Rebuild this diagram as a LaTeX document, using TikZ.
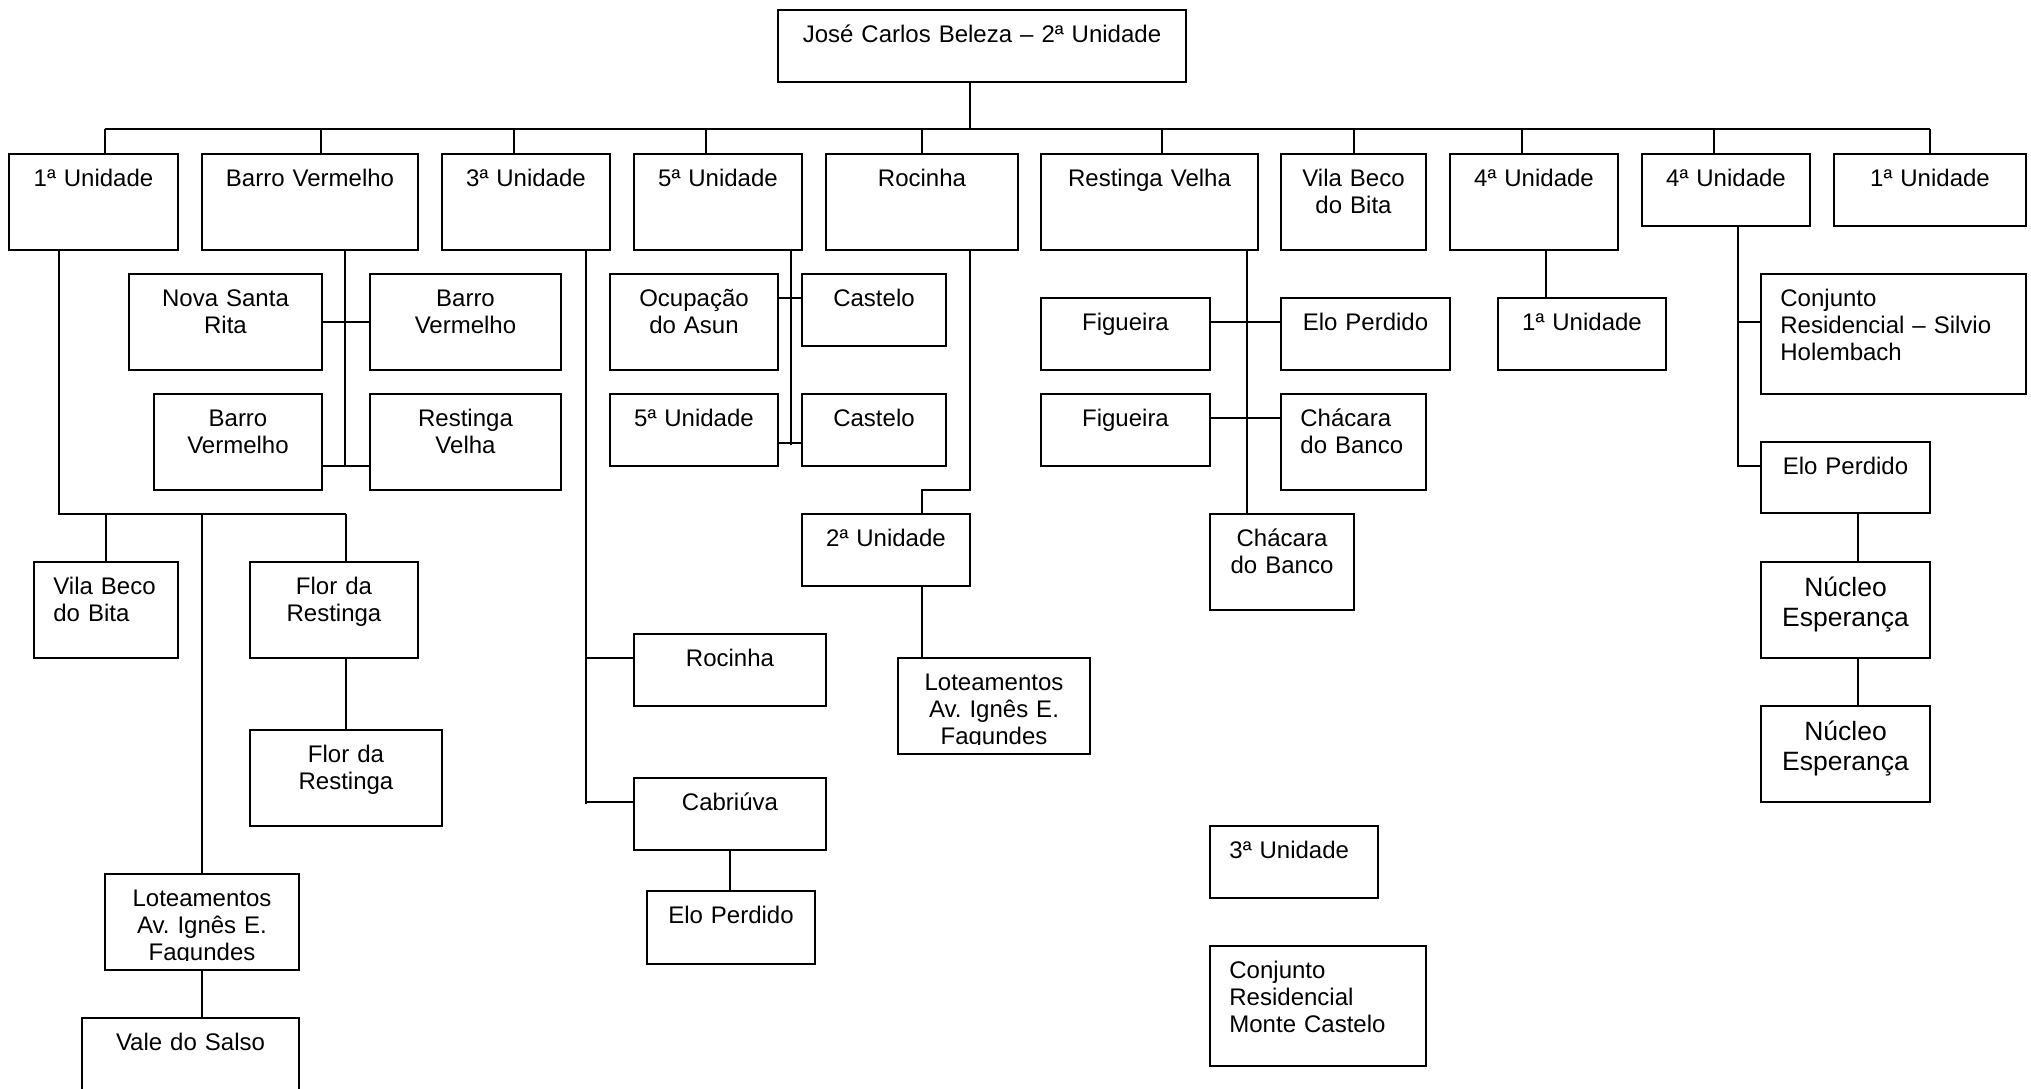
\documentclass[tikz,border=0pt]{standalone}
\usepackage{fontspec}
\setmainfont{Liberation Sans}
\usetikzlibrary{fit}

\begin{document}
\begin{tikzpicture}[x=0.5pt, y=-0.5pt,
    font=\fontsize{12pt}{13.5pt}\selectfont,
    ubox/.style={draw, line width=1pt, fill=white, inner sep=0pt},
    ctext/.style={anchor=north, text width=200pt, align=center, inner xsep=0pt, inner ysep=3.75pt,
        execute at begin node={\rule{0pt}{1.05em}}},
    ltext/.style={ctext, anchor=north west, align=left, inner xsep=10pt},
    bigtext/.style={ctext, font=\fontsize{13.25pt}{15pt}\selectfont},
    link/.style={line width=0.9pt}]

    \path[fill=white, use as bounding box] (0,0) rectangle (2031,1088);

    % Top unit
    \node[ubox, fit={(778,10) (1186,82)}, label={[ctext]north:{José Carlos Beleza – 2ª Unidade}}] (top) {};

    % First level
    \foreach \n/\xa/\xb/\yb/\txt in {u1/9/178/250/{1ª Unidade}, u2/202/418/250/{Barro Vermelho},
        u3/442/610/250/{3ª Unidade}, u4/634/802/250/{5ª Unidade}, u5/826/1018/250/{Rocinha},
        u6/1041/1258/250/{Restinga Velha}, u7/1281/1426/250/{Vila Beco\\do Bita},
        u8/1450/1618/250/{4ª Unidade}, u9/1642/1810/226/{4ª Unidade}, u10/1834/2026/226/{1ª Unidade}} {
        \node[ubox, fit={(\xa,154) (\xb,\yb)}, label={[ctext]north:{\txt}}] (\n) {};
    }

    % Bus
    \coordinate (d0) at (970,129);
    \draw[link] (d0 |- top.south) -- (d0);
    \foreach \i/\x in {1/105, 2/321, 3/514, 4/706, 5/922, 6/1162, 7/1354, 8/1522, 9/1714, 10/1930} {
        \coordinate (d\i) at (\x,129);
        \draw[link] (d\i) -- (d\i |- u\i.north);
    }
    \draw[link] (d1) -- (d10);

    % 1a Unidade branch
    \node[ubox, fit={(34,562) (178,658)}, label={[ltext]north west:{Vila Beco\\do Bita}}] (vb1) {};
    \node[ubox, fit={(250,562) (418,658)}, label={[ctext]north:{Flor da\\Restinga}}] (flor1) {};
    \node[ubox, fit={(250,730) (442,826)}, label={[ctext]north:{Flor da\\Restinga}}] (flor2) {};
    \node[ubox, fit={(105,874) (299,970)}] (lot1) {};
    \begin{scope}
        \clip (lot1.north west) rectangle ([yshift=5.5pt]lot1.south east);
        \node[ctext] (lot1t) at (lot1.north) {Loteamentos\\Av.\ Ignês E.\\Fagundes};
    \end{scope}
    \node[ubox, fit={(82,1018) (299,1100)}, label={[ctext]north:{Vale do Salso}}] (vs) {};

    \coordinate (j1) at (59,514);
    \draw[link] (j1 |- u1.south) -- (j1) -- (flor2.north |- j1);
    \draw[link] (vb1.north |- j1) -- (vb1.north);
    \draw[link] (lot1.north |- j1) -- (lot1.north);
    \draw[link] (flor2.north |- j1) -- (flor2.north |- flor1.north);
    \draw[link] (flor2.north |- flor1.south) -- (flor2.north);
    \draw[link] (lot1.south) -- (lot1.south |- vs.north);

    % Barro Vermelho branch
    \node[ubox, fit={(129,274) (322,370)}, label={[ctext]north:{Nova Santa\\Rita}}] (nsr) {};
    \node[ubox, fit={(370,274) (561,370)}, label={[ctext]north:{Barro\\Vermelho}}] (bva) {};
    \node[ubox, fit={(154,394) (322,490)}, label={[ctext]north:{Barro\\Vermelho}}] (bvb) {};
    \node[ubox, fit={(370,394) (561,490)}, label={[ctext]north:{Restinga\\Velha}}] (rv1) {};

    \coordinate (j2) at (345,466);
    \draw[link] (j2 |- u2.south) -- (j2);
    \draw[link] (nsr.east) -- (bva.west);
    \draw[link] (bvb.east |- j2) -- (rv1.west |- j2);

    % 3a Unidade branch
    \node[ubox, fit={(634,634) (826,706)}, label={[ctext]north:{Rocinha}}] (roc2) {};
    \node[ubox, fit={(634,778) (826,850)}, label={[ctext]north:{Cabriúva}}] (cab) {};
    \node[ubox, fit={(647,891) (815,964)}, label={[ctext]north:{Elo Perdido}}] (elo1) {};

    \coordinate (j3) at (586,804);
    \coordinate (r2) at ([yshift=6pt]roc2.west);
    \coordinate (cb) at ([yshift=6pt]cab.west);
    \draw[link] (j3 |- u3.south) -- (j3);
    \draw[link] (j3 |- r2) -- (r2);
    \draw[link] (j3 |- cb) -- (cb);
    \draw[link] (cab.south) -- (cab.south |- elo1.north);

    % 5a Unidade branch
    \node[ubox, fit={(610,274) (778,370)}, label={[ctext]north:{Ocupação\\do Asun}}] (oc) {};
    \node[ubox, fit={(802,274) (946,346)}, label={[ctext]north:{Castelo}}] (cas1) {};
    \node[ubox, fit={(610,394) (778,466)}, label={[ctext]north:{5ª Unidade}}] (u5b) {};
    \node[ubox, fit={(802,394) (946,466)}, label={[ctext]north:{Castelo}}] (cas2) {};

    \coordinate (j4) at (791,445);
    \coordinate (k1) at ([yshift=6pt]cas1.west);
    \coordinate (k2) at ([yshift=-6.5pt]cas2.west);
    \draw[link] (j4 |- u4.south) -- (j4);
    \draw[link] (k1 -| oc.east) -- (k1);
    \draw[link] (k2 -| u5b.east) -- (k2);

    % Rocinha branch
    \node[ubox, fit={(802,514) (970,586)}, label={[ctext]north:{2ª Unidade}}] (u2b) {};
    \node[ubox, fit={(898,658) (1090,754)}] (lot2) {};
    \begin{scope}
        \clip (lot2.north west) rectangle ([yshift=5.5pt]lot2.south east);
        \node[ctext] (lot2t) at (lot2.north) {Loteamentos\\Av.\ Ignês E.\\Fagundes};
    \end{scope}

    \coordinate (j5) at (970,490);
    \draw[link] (j5 |- u5.south) -- (j5) -| (u5.south |- u2b.north);
    \draw[link] (u5.south |- u2b.south) -- (u5.south |- lot2.north);

    % Restinga Velha branch
    \node[ubox, fit={(1041,298) (1210,370)}, label={[ctext]north:{Figueira}}] (fig1) {};
    \node[ubox, fit={(1281,298) (1450,370)}, label={[ctext]north:{Elo Perdido}}] (elo2) {};
    \node[ubox, fit={(1041,394) (1210,466)}, label={[ctext]north:{Figueira}}] (fig2) {};
    \node[ubox, fit={(1281,394) (1426,490)}, label={[ltext]north west:{Chácara\\do Banco}}] (cb1) {};
    \node[ubox, fit={(1210,514) (1354,610)}, label={[ctext]north:{Chácara\\do Banco}}] (cb2) {};

    \coordinate (j6) at (1247,322);
    \coordinate (k3) at ([yshift=6pt]fig2.east);
    \draw[link] (j6 |- u6.south) -- (j6 |- cb2.north);
    \draw[link] (fig1.east |- j6) -- (elo2.west |- j6);
    \draw[link] (k3) -- (k3 -| cb1.west);

    % 4a Unidade branches
    \node[ubox, fit={(1498,298) (1666,370)}, label={[ctext]north:{1ª Unidade}}] (u1b) {};
    \coordinate (j8) at (1546,274);
    \draw[link] (j8 |- u8.south) -- (j8 |- u1b.north);

    \node[ubox, fit={(1761,274) (2026,394)}, label={[ltext]north west:{Conjunto\\Residencial – Silvio\\Holembach}}] (crs) {};
    \node[ubox, fit={(1761,442) (1930,513)}, label={[ctext]north:{Elo Perdido}}] (elo3) {};
    \node[ubox, fit={(1761,562) (1930,658)}, label={[bigtext]north:{Núcleo\\Esperança}}] (ne1) {};
    \node[ubox, fit={(1761,706) (1930,802)}, label={[bigtext]north:{Núcleo\\Esperança}}] (ne2) {};

    \coordinate (j9) at (1738,466);
    \coordinate (k4) at ([yshift=6pt]crs.west);
    \coordinate (j10) at (1858,600);
    \draw[link] (j9 |- u9.south) -- (j9) -- (j9 -| elo3.west);
    \draw[link] (j9 |- k4) -- (k4);
    \draw[link] (j10 |- elo3.south) -- (j10 |- ne1.north);
    \draw[link] (j10 |- ne1.south) -- (j10 |- ne2.north);

    % Loose units
    \node[ubox, fit={(1210,826) (1378,898)}, label={[ltext]north west:{3ª Unidade}}] (u3c) {};
    \node[ubox, fit={(1210,946) (1426,1066)}, label={[ltext]north west:{Conjunto\\Residencial\\Monte Castelo}}] (crmc) {};
\end{tikzpicture}
\end{document}
